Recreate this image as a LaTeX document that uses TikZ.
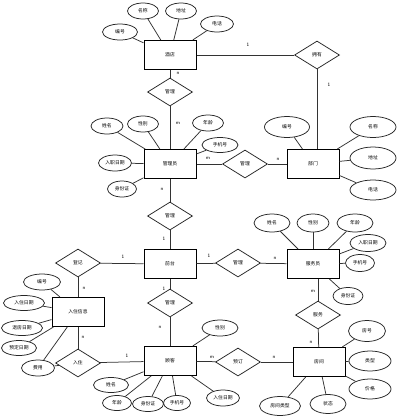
\documentclass[tikz,border=0pt]{standalone}
\usepackage{fontspec}
\newfontfamily\cjk{Noto Sans CJK SC}
\usetikzlibrary{shapes.geometric}
\tikzset{
 ent/.style={draw=black, fill=white, line width=1pt, minimum width=52pt, minimum height=29pt, inner sep=0pt, font=\cjk\fontsize{4.8}{5}\selectfont},
 rel/.style={draw=black!85, fill=white, diamond, line width=0.75pt, minimum width=45pt, minimum height=28pt, inner sep=0pt, font=\cjk\fontsize{4.8}{5}\selectfont},
 attr/.style={draw=black!85, fill=white, ellipse, line width=0.75pt, minimum width=33pt, minimum height=16pt, inner sep=0pt, font=\cjk\fontsize{4.8}{5}\selectfont},
 lnk/.style={draw=black!80, line width=0.75pt},
 card/.style={font=\sffamily\fontsize{5}{5}\selectfont, inner sep=0pt},
}
\begin{document}
\begin{tikzpicture}[x=1pt,y=-1pt]
\useasboundingbox[fill=white] (0,0) rectangle (403,416);
% entities
\node[ent] (jd) at (170,55) {酒店};
\node[ent] (bm) at (313,164) {部门};
\node[ent] (gly) at (170,164) {管理员};
\node[ent] (qt) at (170,264) {前台};
\node[ent] (fwy) at (313,264) {服务员};
\node[ent] (rzxx) at (78,312) {入住信息};
\node[ent] (gk) at (170,361) {顾客};
\node[ent] (fj) at (319,362) {房间};
% relations
\node[rel] (r1) at (317,55) {拥有};
\node[rel] (r2) at (170,92) {管理};
\node[rel] (r3) at (245,164) {管理};
\node[rel] (r4) at (170,216) {管理};
\node[rel] (r5) at (78,263) {登记};
\node[rel] (r6) at (238,263) {管理};
\node[rel] (r7) at (170,303) {管理};
\node[rel] (r8) at (78,363) {入住};
\node[rel] (r9) at (238,362) {预订};
\node[rel] (r10) at (318,315) {服务};
% attributes of jd
\node[attr, minimum width=35pt] (jd1) at (120,32) {编号};
\node[attr, minimum width=31pt] (jd2) at (143,11) {名称};
\node[attr, minimum width=31pt] (jd3) at (181,11) {地址};
\node[attr, minimum width=33pt] (jd4) at (217,24) {电话};
% attributes of bm
\node[attr, minimum width=45pt, minimum height=21pt] (bm1) at (287,127) {编号};
\node[attr, minimum width=46pt, minimum height=21pt] (bm2) at (373,127) {名称};
\node[attr, minimum width=46pt, minimum height=22pt] (bm3) at (373,158) {地址};
\node[attr, minimum width=46pt, minimum height=20pt] (bm4) at (373,190) {电话};
% attributes of gly
\node[attr, minimum width=32pt] (g1) at (107,126) {姓名};
\node[attr, minimum width=31pt] (g2) at (143,124) {性别};
\node[attr, minimum width=31pt] (g3) at (208,123) {年龄};
\node[attr, minimum width=36pt, minimum height=15pt] (g4) at (220,145) {手机号};
\node[attr, minimum width=33pt] (g5) at (115,163) {入职日期};
\node[attr, minimum width=29pt] (g6) at (122,189) {身份证};
% attributes of fwy
\node[attr, minimum width=36pt, minimum height=18pt] (f1) at (272,223) {姓名};
\node[attr, minimum width=32pt, minimum height=18pt] (f2) at (313,223) {性别};
\node[attr, minimum width=36pt, minimum height=18pt] (f3) at (355,223) {年龄};
\node[attr, minimum width=36pt, minimum height=17pt] (f4) at (368,243) {入职日期};
\node[attr, minimum width=29pt, minimum height=17pt] (f5) at (360,263) {手机号};
\node[attr, minimum width=30pt, minimum height=17pt] (f6) at (348,296) {身份证};
% attributes of rzxx
\node[attr, minimum width=37pt] (z1) at (42,282) {编号};
\node[attr, minimum width=41pt, minimum height=15pt] (z2) at (24,303) {入住日期};
\node[attr, minimum width=41pt, minimum height=15pt] (z3) at (22,328) {退房日期};
\node[attr, minimum width=35pt, minimum height=15pt] (z4) at (19,348) {预定日期};
\node[attr, minimum width=33pt] (z5) at (38,368) {费用};
% attributes of gk
\node[attr, minimum width=36pt] (k1) at (220,328) {性别};
\node[attr, minimum width=35pt, minimum height=15pt] (k2) at (111,385) {姓名};
\node[attr, minimum width=29pt, minimum height=15pt] (k3) at (117,403) {年龄};
\node[attr, minimum width=31pt, minimum height=15pt] (k4) at (148,404) {身份证};
\node[attr, minimum width=27pt, minimum height=15pt] (k5) at (177,403) {手机号};
\node[attr, minimum width=33pt, minimum height=16pt] (k6) at (223,398) {入住日期};
% attributes of fj
\node[attr, minimum width=37pt, minimum height=21pt] (j1) at (367,331) {房号};
\node[attr, minimum width=42pt, minimum height=20pt] (j2) at (370,361) {类型};
\node[attr, minimum width=42pt, minimum height=20pt] (j3) at (370,389) {价格};
\node[attr, minimum width=41pt, minimum height=19pt] (j4) at (280,406) {房间类型};
\node[attr, minimum width=36pt, minimum height=19pt] (j5) at (328,404) {状态};
% attribute links
\foreach \a/\e in {jd1/jd,jd2/jd,jd3/jd,jd4/jd,bm1/bm,bm2/bm,bm3/bm,bm4/bm,g1/gly,g2/gly,g3/gly,g4/gly,g5/gly,g6/gly,f1/fwy,f2/fwy,f3/fwy,f4/fwy,f5/fwy,f6/fwy,z1/rzxx,z2/rzxx,z3/rzxx,z4/rzxx,z5/rzxx,z5/r8,k1/gk,k2/gk,k3/gk,k4/gk,k5/gk,k6/gk,j1/fj,j2/fj,j3/fj,j4/fj,j5/fj}
  \draw[lnk] (\a) -- (\e);
% relation links
\draw[lnk] (jd) -- (r1);
\draw[lnk] (r1.south) -- (r1.south |- bm.north);
\draw[lnk] (jd) -- (r2);
\draw[lnk] (r2) -- (gly);
\draw[lnk] (gly) -- (r3);
\draw[lnk] (r3) -- (bm);
\draw[lnk] (gly) -- (r4);
\draw[lnk] (r4) -- (qt);
\draw[lnk] (qt) -- (r5);
\draw[lnk] (r5) -- (rzxx);
\draw[lnk] (qt) -- (r6);
\draw[lnk] (r6) -- (fwy);
\draw[lnk] (qt) -- (r7);
\draw[lnk] (r7) -- (gk);
\draw[lnk] (rzxx) -- (r8);
\draw[lnk] (r8) -- (gk);
\draw[lnk] (gk) -- (r9);
\draw[lnk] (r9) -- (fj);
\draw[lnk] (r10.north) -- (r10.north |- fwy.south);
\draw[lnk] (r10) -- (fj);
% cardinalities
\node[card] (c1) at (248,45) {1};
\node[card] (c2) at (329,85) {1};
\node[card] (c3) at (178,73) {n};
\node[card] (c4) at (178,123) {m};
\node[card] (c5) at (208,158) {m};
\node[card] (c6) at (278,159) {n};
\node[card] (c7) at (162,189) {n};
\node[card] (c8) at (164,239) {1};
\node[card] (c9) at (123,257) {1};
\node[card] (c10) at (84,288) {n};
\node[card] (c11) at (209,256) {1};
\node[card] (c12) at (275,258) {n};
\node[card] (c13) at (164,289) {1};
\node[card] (c14) at (160,327) {n};
\node[card] (c15) at (83,337) {n};
\node[card] (c16) at (127,356) {1};
\node[card] (c17) at (212,357) {m};
\node[card] (c18) at (274,357) {n};
\node[card] (c19) at (313,291) {m};
\node[card] (c20) at (311,342) {n};
\end{tikzpicture}
\end{document}
